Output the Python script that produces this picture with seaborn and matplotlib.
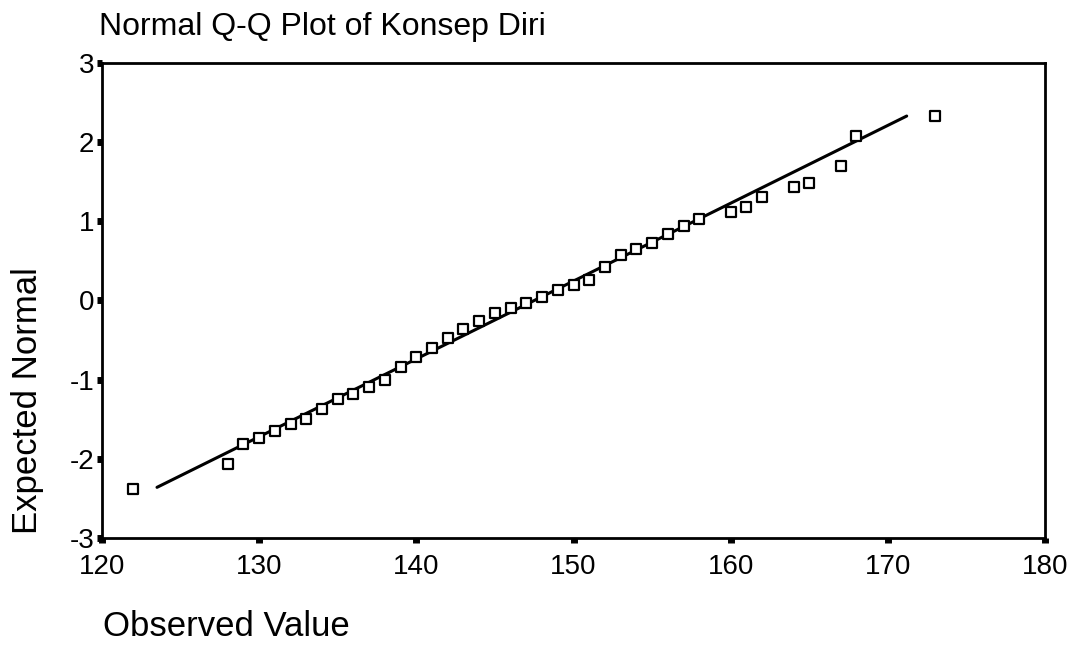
import matplotlib
matplotlib.use("Agg")
import matplotlib.pyplot as plt
import seaborn as sns
import pandas as pd

sns.set_style("white")
plt.rcParams["font.family"] = ["Liberation Sans", "DejaVu Sans"]
plt.rcParams["axes.unicode_minus"] = False
plt.rcParams["text.color"] = "black"

observed = [122, 128, 129, 130, 131, 132, 133, 134, 135, 136, 137, 138, 139, 140,
            141, 142, 143, 144, 145, 146, 147, 148, 149, 150, 151, 152, 153, 154,
            155, 156, 157, 158, 160, 161, 162, 164, 165, 167, 168, 173]
expected = [-2.38, -2.06, -1.81, -1.74, -1.65, -1.56, -1.50, -1.37, -1.25, -1.18,
            -1.09, -1.01, -0.84, -0.72, -0.60, -0.48, -0.36, -0.26, -0.16, -0.09,
            -0.03, 0.04, 0.13, 0.19, 0.26, 0.42, 0.58, 0.65, 0.72, 0.84,
            0.94, 1.03, 1.12, 1.18, 1.31, 1.43, 1.48, 1.70, 2.08, 2.33]

# reference line end points
line_x = [123.5, 171.2]
line_y = [-2.36, 2.33]

x_ticks = [120, 130, 140, 150, 160, 170, 180]
y_ticks = [-3, -2, -1, 0, 1, 2, 3]

df = pd.DataFrame({"Observed": observed, "Expected": expected})

fig = plt.figure(figsize=(10.83, 6.46), dpi=100)
ax = fig.add_axes([102 / 1083, 1 - 538 / 646, 943 / 1083, 475 / 646])

sns.lineplot(x=line_x, y=line_y, ax=ax, color="black", linewidth=2.2)
sns.scatterplot(data=df, x="Observed", y="Expected", ax=ax, marker="s", s=45,
                facecolor="white", edgecolor="black", linewidth=1.6, zorder=3)

ax.set_xlim(120, 180)
ax.set_ylim(-3, 3)
ax.set_xticks(x_ticks)
ax.set_yticks(y_ticks)
ax.set_xlabel("")
ax.set_ylabel("")
for s in ax.spines.values():
    s.set_linewidth(2)
    s.set_color("black")
ax.tick_params(axis="both", direction="out", length=3.5, width=5, color="black",
               labelsize=20, labelcolor="black", bottom=True, left=True)
ax.tick_params(axis="x", pad=8)
ax.tick_params(axis="y", pad=2)

fig.text(99 / 1083, 1 - 35 / 646, "Normal Q-Q Plot of Konsep Diri",
         ha="left", va="baseline", fontsize=23)
fig.text(103 / 1083, 1 - 636 / 646, "Observed Value",
         ha="left", va="baseline", fontsize=25)
fig.text(28 / 1083, 1 - 401 / 646, "Expected Normal", rotation=90,
         ha="center", va="center", fontsize=25)

fig.savefig("out.png", dpi=100, facecolor="white")
